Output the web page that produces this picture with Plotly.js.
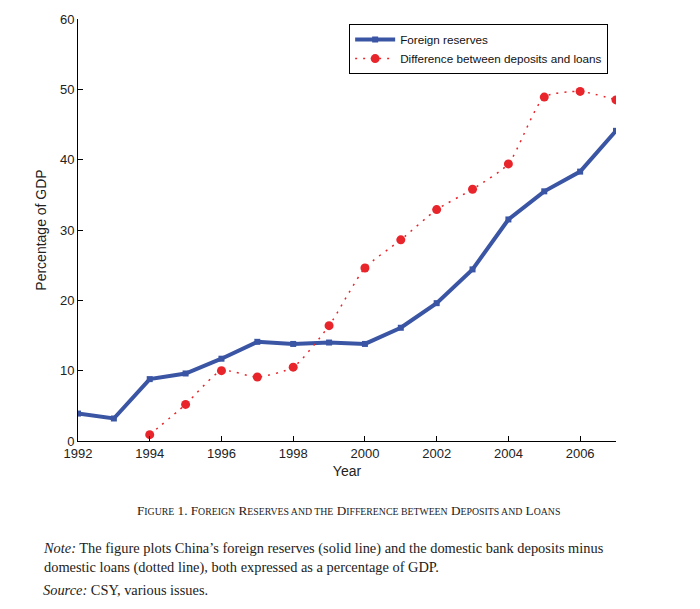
<!DOCTYPE html>
<html>
<head>
<meta charset="utf-8">
<script src="https://cdn.plot.ly/plotly-3.0.1.min.js"></script>
<style>html,body{margin:0;padding:0;background:#fff;}#chart{width:700px;height:609px;}</style>
</head>
<body>
<div id="chart"></div>
<script>
const years = [1992,1993,1994,1995,1996,1997,1998,1999,2000,2001,2002,2003,2004,2005,2006,2007];
const foreignReserves = [3.9,3.2,8.8,9.6,11.7,14.1,13.8,14.0,13.8,16.1,19.6,24.4,31.5,35.5,38.3,44.1];
const diffYears = [1994,1995,1996,1997,1998,1999,2000,2001,2002,2003,2004,2005,2006,2007];
const depositLoanDiff = [0.9,5.2,10.0,9.1,10.5,16.4,24.6,28.6,32.9,35.8,39.4,48.9,49.7,48.5];
const xTicks = [1992,1994,1996,1998,2000,2002,2004,2006];
const yTicks = [0,10,20,30,40,50,60];

const traces = [
  {x: years, y: foreignReserves, name: 'Foreign reserves', type: 'scatter', mode: 'lines+markers',
   line: {color: '#3A55A4', width: 4}, marker: {symbol: 'square', size: 6, color: '#3A55A4'}},
  {x: diffYears, y: depositLoanDiff, name: 'Difference between deposits and loans', type: 'scatter', mode: 'lines+markers',
   line: {color: '#E8252B', width: 1.5, dash: '2px,6px', shape: 'spline', smoothing: 0.6},
   marker: {symbol: 'circle', size: 9, color: '#E8252B'}}
];

const sc = s => '<span style="font-size:9.8px">' + s + '</span>';
const caption = 'F' + sc('IGURE') + ' 1. F' + sc('OREIGN') + ' R' + sc('ESERVES AND THE') + ' D' + sc('IFFERENCE BETWEEN') + ' D' + sc('EPOSITS AND') + ' L' + sc('OANS');

const layout = {
  width: 700, height: 609,
  margin: {l: 78, r: 84, t: 19, b: 168},
  paper_bgcolor: '#fff', plot_bgcolor: '#fff',
  font: {family: 'Liberation Sans, Arial, sans-serif', color: '#222', size: 13},
  showlegend: true,
  legend: {x: 0.504, y: 0.988, xanchor: 'left', yanchor: 'top', bordercolor: '#000', borderwidth: 1,
           bgcolor: '#fff', font: {size: 11.7, color: '#111'}, itemwidth: 40, tracegroupgap: 0},
  xaxis: {range: [1992, 2007], tickvals: xTicks, ticktext: xTicks.map(String), ticks: 'inside', ticklen: 5,
          tickcolor: '#000', showgrid: false, zeroline: false, showline: true, linecolor: '#000', linewidth: 1,
          title: {text: 'Year', font: {size: 14}, standoff: 6}, tickfont: {size: 13}},
  yaxis: {range: [0, 60], tickvals: yTicks, ticks: 'inside', ticklen: 5, tickcolor: '#000',
          showgrid: false, zeroline: false, showline: true, linecolor: '#000', linewidth: 1,
          title: {text: 'Percentage of GDP', font: {size: 14}, standoff: 10}, tickfont: {size: 13}},
  annotations: [
    {xref: 'paper', yref: 'paper', x: 0.5, y: -0.165, xanchor: 'center', yanchor: 'middle', showarrow: false,
     text: caption, font: {family: 'Liberation Serif, Times New Roman, serif', size: 13.2, color: '#222'}, xshift: 1},
    {xref: 'paper', yref: 'paper', x: 0, y: 0, xanchor: 'left', yanchor: 'top', showarrow: false, align: 'left',
     xshift: -37, yshift: -97,
     text: '<i>Note:</i> The figure plots China\u2019s foreign reserves (solid line) and the domestic bank deposits minus<br>domestic loans (dotted line), both expressed as a percentage of GDP.',
     font: {family: 'Liberation Serif, Times New Roman, serif', size: 14.4, color: '#222'}},
    {xref: 'paper', yref: 'paper', x: 0, y: 0, xanchor: 'left', yanchor: 'top', showarrow: false, align: 'left',
     xshift: -37, yshift: -139,
     text: '<i>Source:</i> CSY, various issues.',
     font: {family: 'Liberation Serif, Times New Roman, serif', size: 14.4, color: '#222'}}
  ]
};

Plotly.newPlot('chart', traces, layout, {displayModeBar: false, staticPlot: true});
</script>
</body>
</html>
